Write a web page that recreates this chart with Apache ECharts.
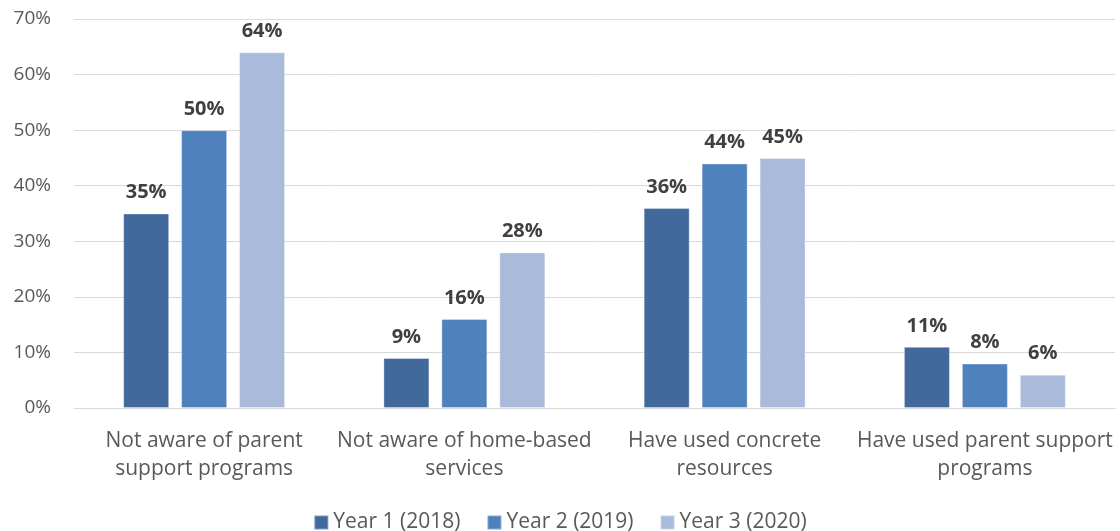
<!DOCTYPE html>
<html>
<head>
<meta charset="utf-8">
<script src="https://cdn.jsdelivr.net/npm/echarts@6/dist/echarts.min.js"></script>
<style>
  html, body { margin: 0; padding: 0; background: #fff; }
  #chart { width: 1120px; height: 531px; }
</style>
</head>
<body>
<div id="chart"></div>
<script>
// Survey categories and yearly percentages
const categories = [
  'Not aware of parent\nsupport programs',
  'Not aware of home-based\nservices',
  'Have used concrete\nresources',
  'Have used parent support\nprograms'
];
const seriesNames = ['Year 1 (2018)', 'Year 2 (2019)', 'Year 3 (2020)'];
const year1 = [35, 9, 36, 11];
const year2 = [50, 16, 44, 8];
const year3 = [64, 28, 45, 6];
const colors = ['#41699C', '#4F81BD', '#AABADA'];

const font = '"Open Sans", "Liberation Sans", sans-serif';
const chart = echarts.init(document.getElementById('chart'), null, { renderer: 'canvas' });

const makeSeries = (name, data, color) => ({
  name: name,
  type: 'bar',
  data: data,
  barWidth: 46,
  barGap: '26%',
  itemStyle: { color: color, borderColor: 'rgba(255,255,255,0.35)', borderWidth: 1 },
  label: {
    show: true,
    position: 'top',
    distance: 11,
    formatter: '{c}%',
    fontFamily: font,
    fontWeight: 'bold',
    fontSize: 20,
    color: '#404040'
  }
});

chart.setOption({
  animation: false,
  color: colors,
  grid: { left: 74, right: 5, top: 19, bottom: 123, containLabel: false },
  legend: {
    top: 507,
    left: 'center',
    itemWidth: 14,
    itemHeight: 14,
    itemGap: 26,
    itemTextGap: 4,
    icon: 'rect',
    textStyle: { fontFamily: font, fontSize: 21, color: '#595959' },
    data: seriesNames
  },
  xAxis: {
    type: 'category',
    data: categories,
    axisLine: { lineStyle: { color: '#D9D9D9', width: 1 } },
    axisTick: { show: false },
    axisLabel: {
      interval: 0,
      margin: 19,
      lineHeight: 28,
      fontFamily: font,
      fontSize: 21,
      color: '#595959'
    }
  },
  yAxis: {
    type: 'value',
    min: 0,
    max: 70,
    interval: 10,
    axisLine: { show: false },
    axisTick: { show: false },
    splitLine: { lineStyle: { color: '#D9D9D9', width: 1 } },
    axisLabel: {
      margin: 23,
      formatter: '{value}%',
      fontFamily: font,
      fontSize: 19,
      color: '#595959'
    }
  },
  series: [
    makeSeries(seriesNames[0], year1, colors[0]),
    makeSeries(seriesNames[1], year2, colors[1]),
    makeSeries(seriesNames[2], year3, colors[2])
  ]
});
</script>
</body>
</html>
